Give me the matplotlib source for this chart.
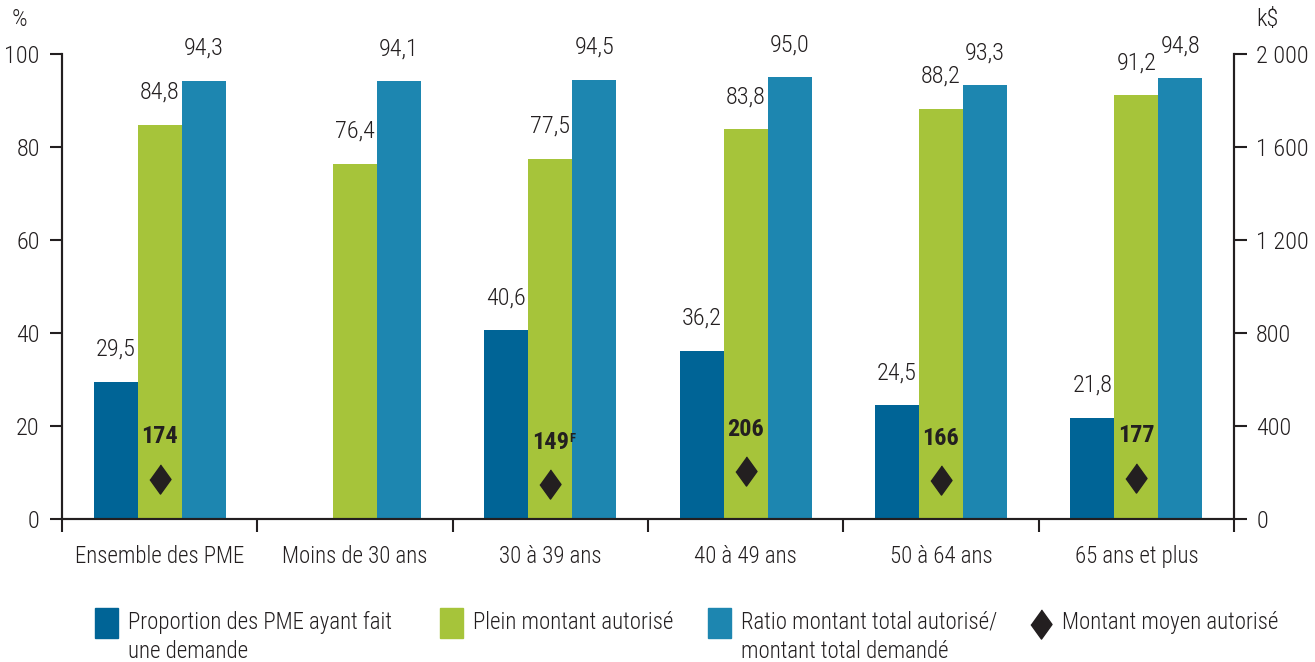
import matplotlib
matplotlib.use('Agg')
import matplotlib.pyplot as plt
from matplotlib.patches import Rectangle
from matplotlib.lines import Line2D
import numpy as np

W, H = 1315, 662

FONT = ['Roboto Condensed', 'Liberation Sans', 'DejaVu Sans']
plt.rcParams['font.family'] = FONT
plt.rcParams['font.weight'] = 300
TXT = '#231f20'

# data
categories = ['Ensemble des PME', 'Moins de 30 ans', '30 à 39 ans',
              '40 à 49 ans', '50 à 64 ans', '65 ans et plus']
proportion = [29.5, None, 40.6, 36.2, 24.5, 21.8]
plein = [84.8, 76.4, 77.5, 83.8, 88.2, 91.2]
ratio = [94.3, 94.1, 94.5, 95.0, 93.3, 94.8]
montant = [174, None, 149, 206, 166, 177]
montant_flag = ['', '', 'F', '', '', '']

C_DARK = '#006496'
C_GREEN = '#a6c43a'
C_BLUE = '#1d86b0'

def fx(px):
    return px / W

def fy(py):
    return 1 - py / H

fig = plt.figure(figsize=(W / 100, H / 100), dpi=100)
ax = fig.add_axes([fx(62), fy(519), fx(1234) - fx(62), fy(54) - fy(519)])
ax2 = ax.twinx()

x = np.arange(len(categories))
bw = 0.225

def num(v):
    return np.nan if v is None else v

ax.bar(x - bw, [num(v) for v in proportion], bw, color=C_DARK, zorder=2)
ax.bar(x, plein, bw, color=C_GREEN, zorder=2)
ax.bar(x + bw, ratio, bw, color=C_BLUE, zorder=2)

# value labels
for off, vals in ((-bw, proportion), (0, plein), (bw, ratio)):
    for xi, v in zip(x, vals):
        if v is None:
            continue
        ax.annotate(f'{v:.1f}'.replace('.', ','), (xi + off, v),
                    xytext=(0, 15), textcoords='offset points',
                    ha='center', va='bottom', fontsize=17.5, color=TXT)

# diamonds on the right axis
diamond = [(0, 1), (0.72, 0), (0, -1), (-0.72, 0)]
mx = [xi for xi, v in zip(x, montant) if v is not None]
my = [v for v in montant if v is not None]
ax2.plot(mx, my, linestyle='none', marker=diamond, markersize=21,
         color=TXT, zorder=3)
for xi, v, fl in zip(x, montant, montant_flag):
    if v is None:
        continue
    t = ax2.annotate(str(v), (xi, v), xytext=(0, 22), textcoords='offset points',
                     ha='center', va='bottom', fontsize=17.5, fontweight='bold',
                     color=TXT)
    if fl:
        ax2.annotate(fl, xy=(1.0, 0.95), xycoords=t, ha='left', va='top',
                     fontsize=9, fontweight='bold', color=TXT)

# axes styling
ax.set_xlim(-0.5, len(categories) - 0.5)
ax.set_ylim(0, 100)
ax2.set_ylim(0, 2000)
ax.set_yticks([0, 20, 40, 60, 80, 100])
ax2.set_yticks([0, 400, 800, 1200, 1600, 2000])
ax2.set_yticklabels(['0', '400', '800', '1 200', '1 600', '2 000'])

ax.set_xticks(np.arange(-0.5, len(categories)), minor=False)
ax.set_xticklabels([])
ax.set_xticks(x, minor=True)
ax.set_xticklabels(categories, minor=True)
ax.tick_params(axis='x', which='major', length=9, width=1.5, color=TXT, direction='out')
ax.tick_params(axis='x', which='minor', length=0, pad=19, labelsize=16.5, labelcolor=TXT)
ax.tick_params(axis='y', length=9, width=1.5, color=TXT, labelsize=17.5,
               labelcolor=TXT, pad=7)
ax2.tick_params(axis='y', length=9, width=1.5, color=TXT, labelsize=17.5,
                labelcolor=TXT, pad=7)

for a in (ax, ax2):
    a.spines['top'].set_visible(False)
    for s in ('left', 'right', 'bottom'):
        a.spines[s].set_color(TXT)
        a.spines[s].set_linewidth(1.5)

fig.text(fx(12), fy(20), '%', fontsize=17.5, color=TXT, va='center', ha='left')
fig.text(fx(1256), fy(20), 'k$', fontsize=17.5, color=TXT, va='center', ha='left')

# legend, drawn by hand so the handles sit on the first text line
legend_items = [
    ('patch', C_DARK, 95, 'Proportion des PME ayant fait\nune demande'),
    ('patch', C_GREEN, 440, 'Plein montant autorisé'),
    ('patch', C_BLUE, 708, 'Ratio montant total autorisé/\nmontant total demandé'),
    ('marker', TXT, 1030, 'Montant moyen autorisé'),
]
for kind, col, px, label in legend_items:
    if kind == 'patch':
        fig.add_artist(Rectangle((fx(px), fy(638)), fx(23), fy(608) - fy(638),
                                 transform=fig.transFigure, color=col))
        tx = px + 33
    else:
        fig.add_artist(Line2D([fx(px + 11)], [fy(624)], marker=diamond,
                              markersize=21, color=col, linestyle='none',
                              transform=fig.transFigure))
        tx = px + 32
    fig.text(fx(tx), fy(611), label, fontsize=16.5, color=TXT, va='top', ha='left',
             linespacing=1.35)

fig.savefig('out.png', dpi=100)
